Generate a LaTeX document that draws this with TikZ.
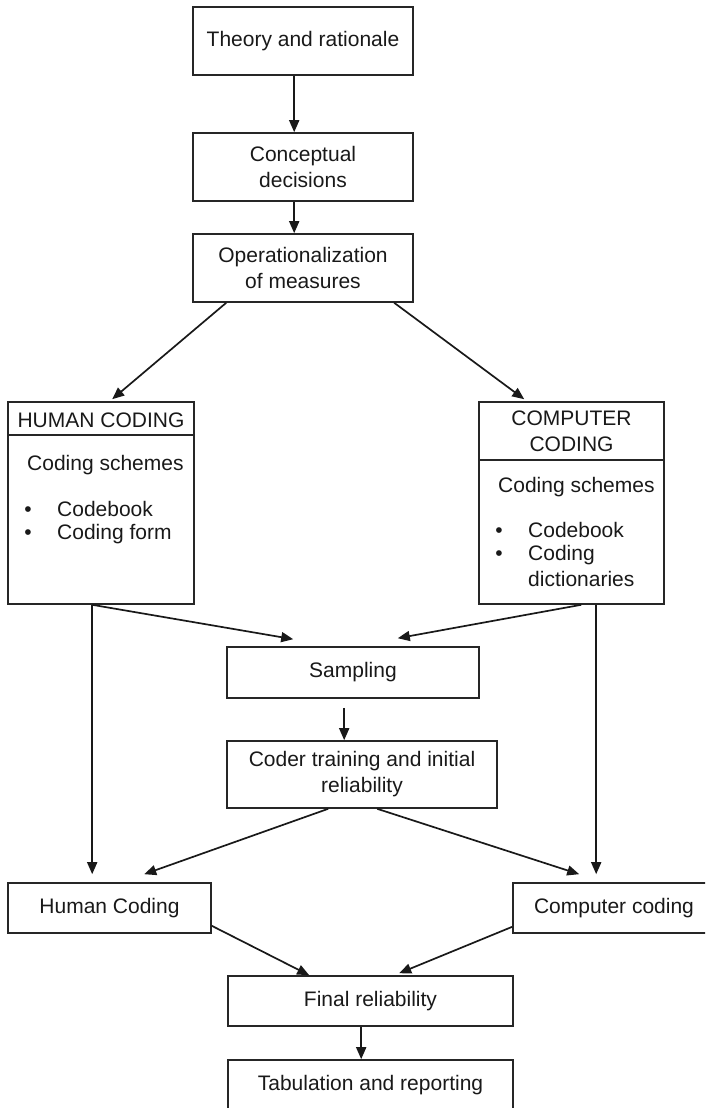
\documentclass[tikz,border=0pt]{standalone}
\usepackage{fontspec}
\setmainfont{Liberation Sans}
\usetikzlibrary{arrows.meta,calc}
\begin{document}
\begin{tikzpicture}[x=1pt,y=-1pt,
  box/.style={draw=black!85, line width=1.6pt, inner sep=0pt, align=center, text=black!90, font=\fontsize{21}{26}\selectfont},
  txt/.style={inner sep=0pt, text height=15pt, text depth=0pt, text=black!90, font=\fontsize{21}{26}\selectfont},
  arr/.style={draw=black!90, line width=1.7pt, -{Triangle[length=12pt,width=10pt]}},
  divider/.style={draw=black!85, line width=1.6pt}]
\useasboundingbox (0,0) rectangle (705,1108);
\clip (0,0) rectangle (705,1108);

% boxes
\node[box, minimum width=220, minimum height=68] (theory) at (303,41) {Theory and rationale};
\node[box, minimum width=220, minimum height=68] (concept) at (303,167) {Conceptual\\decisions};
\node[box, minimum width=220, minimum height=68] (oper) at (303,268) {Operationalization\\of measures};
\node[box, minimum width=186, minimum height=202] (human) at (101,503) {};
\node[box, minimum width=185, minimum height=202] (computer) at (571.5,503) {};
\node[box, minimum width=252, minimum height=51] (sampling) at (353,672.5) {Sampling};
\node[box, minimum width=270, minimum height=67] (coder) at (362,774.5) {Coder training and initial\\reliability};
\node[box, minimum width=203, minimum height=50] (humcod) at (109.5,908) {Human Coding};
\node[box, minimum width=202, minimum height=50] (compcod) at (614,908) {Computer coding};
\node[box, minimum width=285, minimum height=50] (final) at (370.5,1001) {Final reliability};
\node[box, minimum width=285, minimum height=50] (tab) at (370.5,1085) {Tabulation and reporting};

% dividers
\draw[divider] ($(human.north west)+(0,34)$) -- ($(human.north east)+(0,34)$);
\draw[divider] ($(computer.north west)+(0,59)$) -- ($(computer.north east)+(0,59)$);

% human box content
\node[txt] (htitle) at (101,419.5) {HUMAN CODING};
\node[txt, anchor=west] (hschemes) at (27,463) {Coding schemes};
\node[txt] (hb1) at (28,509) {\textbullet};
\node[txt] (hb2) at (28,532) {\textbullet};
\node[txt, anchor=west] (hc1) at (57,509) {Codebook};
\node[txt, anchor=west] (hc2) at (57,532) {Coding form};

% computer box content
\node[txt] (ctitle1) at (571.5,418) {COMPUTER};
\node[txt] (ctitle2) at (571.5,444) {CODING};
\node[txt, anchor=west] (cschemes) at (498,485) {Coding schemes};
\node[txt] (cb1) at (499,530) {\textbullet};
\node[txt] (cb2) at (499,553) {\textbullet};
\node[txt, anchor=west] (cc1) at (528,530) {Codebook};
\node[txt, anchor=west] (cc2) at (528,553) {Coding};
\node[txt, anchor=west] (cc3) at (528,579) {dictionaries};

% connector coordinates
\coordinate (hs) at ($(human.south west)+(85,0)$);
\coordinate (cs1) at ($(computer.south west)+(103,0)$);
\coordinate (cs2) at ($(computer.south west)+(118,0)$);

% connectors
\draw[arr] ($(theory.south west)+(102,0)$) -- ($(concept.north west)+(102,0)$);
\draw[arr] ($(concept.south west)+(102,0)$) -- ($(oper.north west)+(102,0)$);
\draw[arr] ($(oper.south west)+(34,0)$) -- ($(human.north west)+(105,-2)$);
\draw[arr] ($(oper.south west)+(202,0)$) -- ($(computer.north west)+(46,-2)$);
\draw[arr] (hs) -- ($(humcod.north west)+(85,-8)$);
\draw[arr] (hs) -- ($(sampling.north west)+(67,-7)$);
\draw[arr] (cs1) -- ($(sampling.north east)+(-82,-8)$);
\draw[arr] (cs2) -- ($(compcod.north west)+(84,-8)$);
\draw[arr] ($(sampling.south west)+(118,9)$) -- ($(coder.north west)+(118,0)$);
\draw[arr] ($(coder.south west)+(102,0)$) -- ($(humcod.north west)+(137,-8)$);
\draw[arr] ($(coder.south west)+(151,0)$) -- ($(compcod.north west)+(67,-8)$);
\draw[arr] ($(humcod.south east)+(0,-8)$) -- ($(final.north west)+(82,0)$);
\draw[arr] ($(compcod.south west)+(0,-7)$) -- ($(final.north west)+(172,-2)$);
\draw[arr] ($(final.south west)+(134,0)$) -- ($(tab.north west)+(134,0)$);
\end{tikzpicture}
\end{document}
